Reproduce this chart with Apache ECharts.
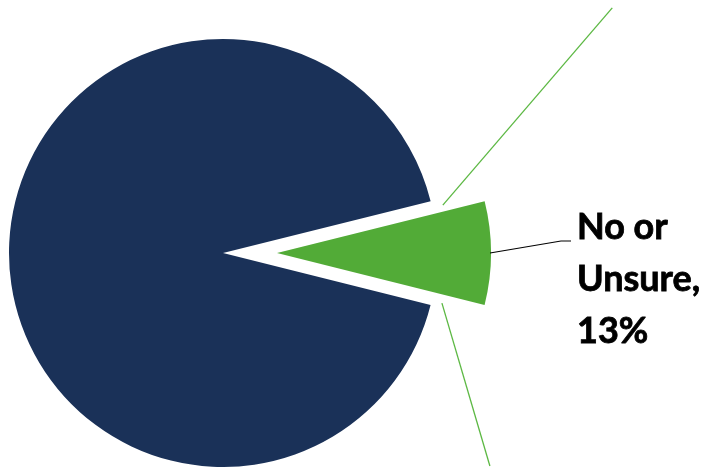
<!DOCTYPE html>
<html>
<head>
<meta charset="utf-8">
<script src="https://cdn.jsdelivr.net/npm/echarts@6/dist/echarts.min.js"></script>
<style>html,body{margin:0;padding:0;background:#fff}#c{width:718px;height:467px}</style>
</head>
<body>
<div id="c"></div>
<script>
// Data (slice shares as drawn, label text as printed)
const categories = ['No or Unsure', 'Yes'];
const sliceShares = [7.8, 92.2];
const labelPercents = ['13%', ''];
const colors = ['#52ab37', '#1a3158'];

const CX = 223, CY = 253, R = 214, OFFSET = 54;
function polar(r, deg) {
  const a = deg * Math.PI / 180;
  return [CX + r * Math.cos(a), CY - r * Math.sin(a)];
}
// connector lines of the exploded slice (radius, angle from pie centre)
const connectors = [
  [polar(225, 12.3), polar(460, 32.2)],
  [polar(224.6, -12.9), polar(341.5, -38.6)]
];
const anchor = polar(R + OFFSET - 1, 0);
const labelText = categories[0].replace(' Unsure', '\nUnsure') + ',\n' + labelPercents[0];

const chart = echarts.init(document.getElementById('c'), null, {renderer: 'canvas'});
chart.setOption({
  animation: false,
  backgroundColor: '#ffffff',
  series: [{
    type: 'pie',
    center: [CX, CY],
    radius: R,
    startAngle: 14,
    clockwise: true,
    selectedMode: 'single',
    selectedOffset: OFFSET,
    itemStyle: {borderWidth: 0},
    emphasis: {disabled: true},
    label: {show: false},
    labelLine: {show: false},
    data: categories.map((n, i) => ({
      name: n,
      value: sliceShares[i],
      selected: i === 0,
      itemStyle: {color: colors[i]}
    }))
  }],
  graphic: connectors.map(c => ({
    type: 'line',
    shape: {x1: c[0][0], y1: c[0][1], x2: c[1][0], y2: c[1][1]},
    style: {stroke: '#5cb843', lineWidth: 1.3},
    z: 1
  })).concat([{
    type: 'polyline',
    shape: {points: [anchor, [anchor[0] + 71, anchor[1] - 12], [anchor[0] + 81, anchor[1] - 12]]},
    style: {stroke: '#000', lineWidth: 1.2, fill: null},
    z: 5
  }, {
    type: 'text',
    x: 577,
    y: 201,
    z: 5,
    style: {
      text: labelText,
      fontFamily: 'Lato',
      fontWeight: 'bold',
      fontSize: 36,
      lineHeight: 52,
      fill: '#000',
      stroke: '#000',
      lineWidth: 0.8,
      align: 'left',
      verticalAlign: 'top'
    }
  }])
});
</script>
</body>
</html>
